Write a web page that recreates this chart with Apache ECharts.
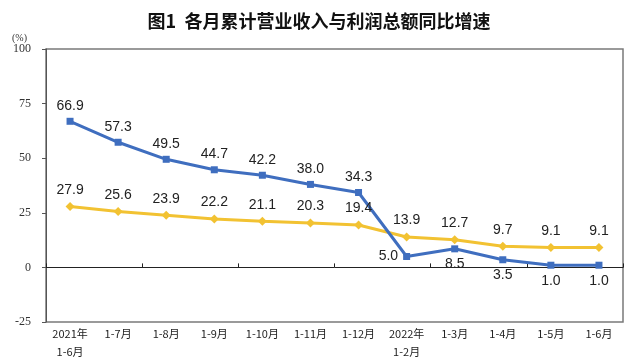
<!DOCTYPE html>
<html>
<head>
<meta charset="utf-8">
<script src="https://cdn.jsdelivr.net/npm/echarts@6/dist/echarts.min.js"></script>
<style>
html,body{margin:0;padding:0;background:#fff;}
#chart{width:638px;height:364px;}
</style>
</head>
<body>
<div id="chart"></div>
<script>
const categories = ['2021年\n1-6月','1-7月','1-8月','1-9月','1-10月','1-11月','1-12月','2022年\n1-2月','1-3月','1-4月','1-5月','1-6月'];
const profitGrowth = [66.9, 57.3, 49.5, 44.7, 42.2, 38.0, 34.3, 5.0, 8.5, 3.5, 1.0, 1.0];
const revenueGrowth = [27.9, 25.6, 23.9, 22.2, 21.1, 20.3, 19.4, 13.9, 12.7, 9.7, 9.1, 9.1];
const yTicks = [-25, 0, 25, 50, 75, 100];

const profitLabelPos = ['top','top','top','top','top','top','top','left','bottom','bottom','bottom','bottom'];

const chart = echarts.init(document.getElementById('chart'));
const labelStyle = {show:true, color:'#222', fontSize:14, fontFamily:'Liberation Sans, Arial', formatter: p => Number(p.value).toFixed(1), distance:5};

chart.setOption({
  animation:false,
  title:{
    text:'图1  各月累计营业收入与利润总额同比增速',
    left:'center', top:7,
    textStyle:{fontFamily:'Noto Sans CJK SC', fontSize:18, fontWeight:'bold', color:'#111'}
  },
  graphic:[{type:'text', left:12, top:33, style:{text:'(%)', font:'10px "Liberation Serif"', fill:'#333'}}],
  grid:{left:46, right:15, top:49, bottom:42, show:true, borderColor:'#7a7a7a', borderWidth:1.5, backgroundColor:'#fff'},
  xAxis:[
    {type:'category', data:categories, position:'bottom', boundaryGap:true,
     axisLine:{onZero:true, lineStyle:{color:'#222', width:1}},
     axisTick:{show:true, inside:true, length:4, alignWithLabel:false, lineStyle:{color:'#222'}},
     axisLabel:{show:false}, splitLine:{show:false}},
    {type:'category', data:categories, position:'bottom', boundaryGap:true,
     axisLine:{show:false, onZero:false}, axisTick:{show:false},
     axisLabel:{show:true, margin:3, interval:0, color:'#222', fontSize:11, lineHeight:18, fontFamily:'Noto Sans CJK SC'}}
  ],
  yAxis:{type:'value', min:yTicks[0], max:yTicks[yTicks.length-1], interval:25,
    axisLine:{show:true, lineStyle:{color:'#555'}},
    axisTick:{show:true, length:4, lineStyle:{color:'#555'}},
    axisLabel:{color:'#333', fontSize:12, fontFamily:'Liberation Serif', margin:15},
    splitLine:{show:false}},
  series:[
    {name:'营业收入', type:'line', xAxisIndex:0, data:revenueGrowth,
     symbol:'diamond', symbolSize:9,
     lineStyle:{color:'#F2C232', width:3}, itemStyle:{color:'#F2C232'},
     label:Object.assign({}, labelStyle, {position:'top'})},
    {name:'利润总额', type:'line', xAxisIndex:0, z:3,
     data:profitGrowth.map((v,i)=>({value:v, label:{position:profitLabelPos[i]}})),
     symbol:'rect', symbolSize:7,
     lineStyle:{color:'#3F6EBF', width:3}, itemStyle:{color:'#3F6EBF'},
     label:Object.assign({}, labelStyle)}
  ]
});
</script>
</body>
</html>
